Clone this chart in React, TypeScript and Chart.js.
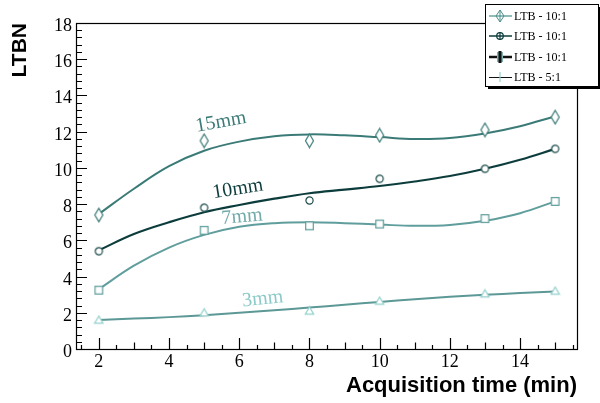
import React, { useEffect, useRef } from "react";
import { Chart, registerables } from "chart.js";

Chart.register(...registerables);

// Measured points: acquisition time (min) vs LTBN
const timesMin = [2, 5, 8, 10, 13, 15];
const ltbn15mm = [7.4, 11.5, 11.5, 11.8, 12.1, 12.8];
const ltbn10mm = [5.4, 7.8, 8.2, 9.4, 9.95, 11.05];
const ltbn7mm = [3.25, 6.55, 6.8, 6.9, 7.2, 8.15];
const ltbn3mm = [1.6, 2.0, 2.1, 2.65, 3.05, 3.2];

// Fitted trend curves, sampled every minute
const fitTimes = [2, 3, 4, 5, 6, 7, 8, 9, 10, 11, 12, 13, 14, 15];
const fit15mm = [7.45, 8.85, 10.1, 10.95, 11.45, 11.75, 11.85, 11.8, 11.7, 11.6, 11.65, 11.9, 12.3, 12.85];
const fit10mm = [5.45, 6.35, 7.0, 7.55, 7.95, 8.3, 8.6, 8.8, 9.0, 9.25, 9.55, 9.95, 10.45, 11.05];
const fit7mm = [3.3, 4.6, 5.6, 6.3, 6.75, 6.95, 7.0, 6.95, 6.87, 6.8, 6.85, 7.08, 7.5, 8.15];
const fit3mm = [1.6, 1.68, 1.76, 1.87, 2.0, 2.14, 2.29, 2.44, 2.6, 2.75, 2.88, 2.99, 3.09, 3.17];

const xTickLabels = [2, 4, 6, 8, 10, 12, 14];
const yTickLabels = [0, 2, 4, 6, 8, 10, 12, 14, 16, 18];
const curveNames = ["15mm", "10mm", "7mm", "3mm"];
const legendLabels = ["LTB - 10:1", "LTB - 10:1", "LTB - 10:1", "LTB - 5:1"];

const COL15 = "#3b7b77";
const COL10 = "#0c3d3c";
const COL7 = "#5f9e9c";
const COL3LINE = "#5c9896";
const COL3MARK = "#93d0cc";

const SERIF = "'Liberation Serif', 'DejaVu Serif', serif";
const SANS = "'Liberation Sans', Arial, sans-serif";

type MarkerKind = "diamond" | "circle" | "square" | "triangle";

function makeMarker(kind: MarkerKind, color: string, lw = 1.2): HTMLCanvasElement {
  const c = document.createElement("canvas");
  const w = 11;
  const h = kind === "diamond" ? 16 : 11;
  c.width = w;
  c.height = h;
  const ctx = c.getContext("2d")!;
  ctx.strokeStyle = color;
  ctx.lineWidth = lw;
  const cx = w / 2;
  const cy = h / 2;
  ctx.beginPath();
  if (kind === "diamond") {
    ctx.moveTo(cx, cy - 6.8);
    ctx.lineTo(cx + 4, cy);
    ctx.lineTo(cx, cy + 6.8);
    ctx.lineTo(cx - 4, cy);
    ctx.closePath();
  } else if (kind === "circle") {
    ctx.arc(cx, cy, 3.6, 0, Math.PI * 2);
  } else if (kind === "square") {
    ctx.rect(cx - 3.8, cy - 3.8, 7.6, 7.6);
  } else {
    ctx.moveTo(cx, cy - 4);
    ctx.lineTo(cx + 4.2, cy + 3.2);
    ctx.lineTo(cx - 4.2, cy + 3.2);
    ctx.closePath();
  }
  ctx.fillStyle = "#ffffff";
  ctx.fill();
  ctx.stroke();
  return c;
}

function pts(xs: number[], ys: number[]) {
  return xs.map((x, i) => ({ x, y: ys[i] }));
}

const decorations = {
  id: "rootStyleFrame",
  afterDraw(chart: any) {
    const ctx: CanvasRenderingContext2D = chart.ctx;
    const { left, right, top, bottom } = chart.chartArea;
    const xs = chart.scales.x;
    const ys = chart.scales.y;
    ctx.save();

    // frame
    ctx.strokeStyle = "#000";
    ctx.lineWidth = 1.2;
    ctx.strokeRect(left + 0.5, top + 0.5, right - left - 1, bottom - top);

    // x ticks: major every 2, secondary every 1, tertiary every 0.5
    ctx.beginPath();
    for (let v = 1.5; v <= 15.51; v += 0.5) {
      const px = Math.round(xs.getPixelForValue(v)) + 0.5;
      const isMajor = Math.abs(v / 2 - Math.round(v / 2)) < 1e-6;
      const isMid = Math.abs(v - Math.round(v)) < 1e-6;
      const len = isMajor ? 11 : isMid ? 6.5 : 4;
      ctx.moveTo(px, bottom);
      ctx.lineTo(px, bottom - len);
    }
    // y ticks: major every 2, minor every 0.4
    for (let k = 0; k <= 45; k++) {
      const v = k * 0.4;
      const py = Math.round(ys.getPixelForValue(v)) + 0.5;
      const isMajor = k % 5 === 0;
      ctx.moveTo(left, py);
      ctx.lineTo(left + (isMajor ? 11 : 6), py);
    }
    ctx.stroke();

    // tick labels
    ctx.fillStyle = "#000";
    ctx.font = `18px ${SERIF}`;
    ctx.textAlign = "center";
    ctx.textBaseline = "alphabetic";
    xTickLabels.forEach((v) => {
      ctx.fillText(String(v), xs.getPixelForValue(v), 367);
    });
    ctx.textAlign = "right";
    yTickLabels.forEach((v) => {
      ctx.fillText(String(v), 72, ys.getPixelForValue(v) + 8);
    });

    // axis titles
    ctx.font = `bold 22px ${SANS}`;
    ctx.textAlign = "right";
    ctx.fillText("Acquisition time (min)", right - 1, 392);
    ctx.save();
    ctx.translate(26, top);
    ctx.rotate(-Math.PI / 2);
    ctx.textAlign = "right";
    ctx.font = `bold 21px ${SANS}`;
    ctx.fillText("LTBN", 0, 0);
    ctx.restore();

    // curve labels
    const labelSpec = [
      { text: curveNames[0], t: 5.48, v: 12.53, ang: -10, color: COL15 },
      { text: curveNames[1], t: 5.96, v: 8.83, ang: -9, color: COL10 },
      { text: curveNames[2], t: 6.08, v: 7.29, ang: -5, color: "#72aba9" },
      { text: curveNames[3], t: 6.67, v: 2.76, ang: -6, color: "#8ccac7" },
    ];
    ctx.font = `20px ${SERIF}`;
    ctx.textAlign = "center";
    ctx.textBaseline = "middle";
    labelSpec.forEach((s) => {
      ctx.save();
      ctx.translate(xs.getPixelForValue(s.t), ys.getPixelForValue(s.v));
      ctx.rotate((s.ang * Math.PI) / 180);
      ctx.fillStyle = s.color;
      ctx.fillText(s.text, 0, 0);
      ctx.restore();
    });

    // legend box with shadow
    const lx = 485, ly = 4, lw = 113, lh = 82;
    ctx.fillStyle = "#000";
    ctx.fillRect(lx + 3, ly + 3, lw, lh);
    ctx.fillStyle = "#fff";
    ctx.fillRect(lx, ly, lw, lh);
    ctx.strokeStyle = "#000";
    ctx.lineWidth = 1;
    ctx.strokeRect(lx + 0.5, ly + 0.5, lw, lh);

    const rowY = [16, 36, 57, 77];
    const mx = 500;
    // entry 1: teal line with diamond
    ctx.lineWidth = 1.5;
    ctx.strokeStyle = "#6aa6a3";
    ctx.beginPath(); ctx.moveTo(489, rowY[0]); ctx.lineTo(512, rowY[0]); ctx.stroke();
    ctx.beginPath();
    ctx.moveTo(mx, rowY[0] - 6); ctx.lineTo(mx + 4, rowY[0]); ctx.lineTo(mx, rowY[0] + 6); ctx.lineTo(mx - 4, rowY[0]); ctx.closePath();
    ctx.strokeStyle = "#4c8c89"; ctx.lineWidth = 1; ctx.stroke();
    ctx.beginPath(); ctx.moveTo(mx, rowY[0] - 6); ctx.lineTo(mx, rowY[0] + 6); ctx.stroke();
    // entry 2: dark line with circle
    ctx.strokeStyle = COL10; ctx.lineWidth = 1.5;
    ctx.beginPath(); ctx.moveTo(489, rowY[1]); ctx.lineTo(512, rowY[1]); ctx.stroke();
    ctx.beginPath(); ctx.arc(mx, rowY[1], 3.3, 0, Math.PI * 2); ctx.lineWidth = 1.2; ctx.stroke();
    ctx.beginPath(); ctx.moveTo(mx, rowY[1] - 4); ctx.lineTo(mx, rowY[1] + 4); ctx.stroke();
    // entry 3: thick dark line with bold cross
    ctx.strokeStyle = "#111"; ctx.lineWidth = 2.5;
    ctx.beginPath(); ctx.moveTo(489, rowY[2]); ctx.lineTo(512, rowY[2]); ctx.stroke();
    ctx.fillStyle = "#7fb3b0";
    ctx.fillRect(mx - 3, rowY[2] - 5, 6, 10);
    ctx.fillStyle = "#111";
    ctx.fillRect(mx - 1.5, rowY[2] - 6, 3, 12);
    // entry 4: thin line with light cross
    ctx.strokeStyle = "#111"; ctx.lineWidth = 1;
    ctx.beginPath(); ctx.moveTo(489, rowY[3] + 0.5); ctx.lineTo(512, rowY[3] + 0.5); ctx.stroke();
    ctx.strokeStyle = COL3MARK; ctx.lineWidth = 1.2;
    ctx.beginPath(); ctx.moveTo(mx, rowY[3] - 5); ctx.lineTo(mx, rowY[3] + 5); ctx.stroke();

    ctx.fillStyle = "#000";
    ctx.font = `12px ${SERIF}`;
    ctx.textAlign = "left";
    ctx.textBaseline = "middle";
    legendLabels.forEach((t, i) => ctx.fillText(t, 514, rowY[i] + 1));

    ctx.restore();
  },
};

export default function App() {
  const ref = useRef<HTMLCanvasElement>(null);

  useEffect(() => {
    if (!ref.current) return;
    const fitLine = (data: number[], color: string, width = 2) => ({
      type: "line" as const,
      data: pts(fitTimes, data),
      borderColor: color,
      borderWidth: width,
      pointRadius: 0,
      tension: 0.4,
      fill: false,
      order: 2,
    });
    const markers = (data: number[], kind: MarkerKind, color: string) => ({
      type: "line" as const,
      data: pts(timesMin, data),
      showLine: false,
      pointStyle: makeMarker(kind, color),
      pointRadius: 4,
      borderColor: color,
      backgroundColor: "#fff",
      order: 1,
    });

    const chart = new Chart(ref.current, {
      type: "line",
      data: {
        datasets: [
          fitLine(fit15mm, COL15),
          fitLine(fit10mm, COL10, 2.2),
          fitLine(fit7mm, COL7),
          fitLine(fit3mm, COL3LINE),
          markers(ltbn15mm, "diamond", COL15),
          markers(ltbn10mm, "circle", "#1c4a4a"),
          markers(ltbn7mm, "square", COL7),
          markers(ltbn3mm, "triangle", COL3MARK),
        ] as any,
      },
      options: {
        animation: false,
        responsive: false,
        maintainAspectRatio: false,
        layout: { padding: { left: 76, top: 23, right: 22, bottom: 54 } },
        plugins: {
          legend: { display: false },
          title: { display: false },
          tooltip: { enabled: false },
        },
        scales: {
          x: { type: "linear", min: 1.35, max: 15.65, display: false },
          y: { type: "linear", min: 0, max: 18, display: false },
        },
      },
      plugins: [decorations],
    });
    return () => chart.destroy();
  }, []);

  return (
    <div style={{ position: "absolute", left: 0, top: 0, width: 600, height: 403, background: "#fff" }}>
      <canvas ref={ref} width={600} height={403} style={{ display: "block", width: 600, height: 403 }} />
    </div>
  );
}
